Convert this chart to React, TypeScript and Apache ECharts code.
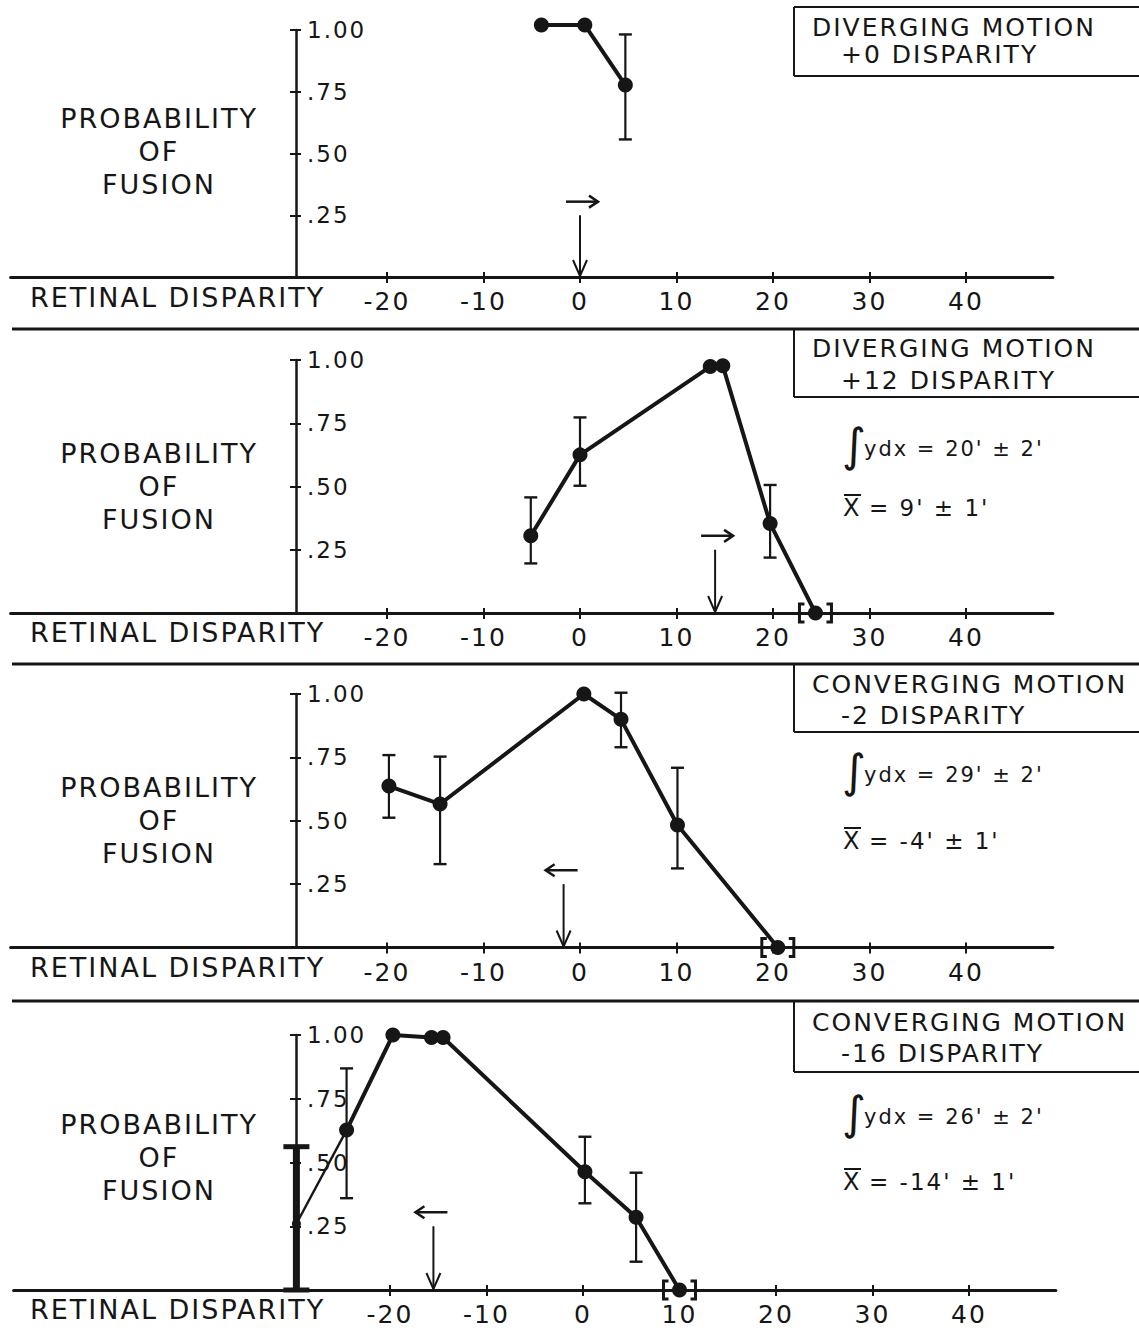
import React, { useEffect, useRef } from 'react';
import * as echarts from 'echarts';

// ---------------- DATA ----------------
const xTickValues = [-20, -10, 0, 10, 20, 30, 40];
const yTickValues = [0.25, 0.5, 0.75, 1.0];
const yTickLabels = ['.25', '.50', '.75', '1.00'];

// Panel 1: diverging motion, +0 disparity
const p1X = [-4, 0.5, 4.7];
const p1Y = [1.02, 1.02, 0.777];
const p1ErrLo = [null, null, 0.557];
const p1ErrHi = [null, null, 0.982];

// Panel 2: diverging motion, +12 disparity
const p2X = [-5.1, 0, 13.5, 14.8, 19.7, 24.4];
const p2Y = [0.305, 0.625, 0.974, 0.977, 0.354, 0];
const p2ErrLo = [0.196, 0.503, null, null, 0.219, null];
const p2ErrHi = [0.457, 0.773, null, null, 0.506, null];

// Panel 3: converging motion, -2 disparity
const p3X = [-19.8, -14.5, 0.4, 4.25, 10.1, 20.5];
const p3Y = [0.637, 0.566, 1.0, 0.9, 0.483, 0];
const p3ErrLo = [0.512, 0.329, null, 0.79, 0.312, null];
const p3ErrHi = [0.759, 0.753, null, 1.005, 0.709, null];

// Panel 4: converging motion, -16 disparity
const p4X = [-29.7, -24.5, -19.7, -15.7, -14.5, 0.2, 5.5, 10];
const p4Y = [0.26, 0.627, 1.0, 0.99, 0.99, 0.464, 0.285, 0];
const p4ErrLo = [0, 0.36, null, null, null, 0.34, 0.111, null];
const p4ErrHi = [0.562, 0.869, null, null, null, 0.601, 0.46, null];

// zero-probability points drawn with brackets, one per panel
const bracketX = [null, 24.4, 20.5, 10];
// disparity arrows (position, direction of motion)
const arrowX = [0, 14, -1.7, -15.5];
const arrowDir = [1, 1, -1, -1];

const boxLine1 = ['DIVERGING MOTION', 'DIVERGING MOTION', 'CONVERGING MOTION', 'CONVERGING MOTION'];
const boxLine2 = ['+0 DISPARITY', '+12 DISPARITY', '-2 DISPARITY', '-16 DISPARITY'];
const integralText = [null, "ydx = 20' ± 2'", "ydx = 29' ± 2'", "ydx = 26' ± 2'"];
const meanText = [null, "= 9' ± 1'", "= -4' ± 1'", "= -14' ± 1'"];
const yLabelLines = ['PROBABILITY', 'OF', 'FUSION'];
const xLabel = 'RETINAL DISPARITY';

// ---------------- LAYOUT ----------------
const INK = '#161616';
const FONT = "'DejaVu Sans', sans-serif";
const PX = 9.65;
const X_MIN = -59;
const X_MAX = 49;
const panelTop = [30, 360, 694, 1035];
const panelHeight = [247, 253, 253.5, 255];
const panelZeroX = [580, 580, 580, 583];
const Y_AXIS_PX = 296;
const boxTop = [7, 329, 664, 1001];
const boxBottom = [76, 397, 732, 1072];
const title1Y = [27, 348, 684, 1022];
const title2Y = [54, 380, 715, 1053];
const intY = [0, 449, 775, 1117];
const meanY = [0, 508, 841, 1182];
const yLabelTop = [118, 453, 787, 1124];
const xLabelY = [297, 632, 967, 1309];
const ARROW_TOP = 0.25;
const ARROW_H = 0.305;

const xs = [p1X, p2X, p3X, p4X];
const ys = [p1Y, p2Y, p3Y, p4Y];
const los = [p1ErrLo, p2ErrLo, p3ErrLo, p4ErrLo];
const his = [p1ErrHi, p2ErrHi, p3ErrHi, p4ErrHi];
const HEAVY_PANEL = 3;
const HEAVY_INDEX = 0;

const errRender = (capHalf: number, width: number, capWidth: number) => (params: any, api: any) => {
  const x = api.value(0);
  const lo = api.value(1);
  const hi = api.value(2);
  const a = api.coord([x, hi]);
  const b = api.coord([x, lo]);
  const st = { stroke: INK, lineWidth: width };
  const cs = { stroke: INK, lineWidth: capWidth };
  return {
    type: 'group',
    children: [
      { type: 'line', shape: { x1: a[0], y1: a[1], x2: b[0], y2: b[1] }, style: st },
      { type: 'line', shape: { x1: a[0] - capHalf, y1: a[1], x2: a[0] + capHalf, y2: a[1] }, style: cs },
      { type: 'line', shape: { x1: b[0] - capHalf, y1: b[1], x2: b[0] + capHalf, y2: b[1] }, style: cs },
    ],
  };
};

const bracketRender = (params: any, api: any) => {
  const c = api.coord([api.value(0), 0]);
  const h = 9;
  const L = c[0] - 16;
  const R = c[0] + 16;
  const s = 5;
  const st = { stroke: INK, lineWidth: 3, fill: 'none' };
  return {
    type: 'group',
    children: [
      { type: 'polyline', shape: { points: [[L + s, c[1] - h], [L, c[1] - h], [L, c[1] + h], [L + s, c[1] + h]] }, style: st },
      { type: 'polyline', shape: { points: [[R - s, c[1] - h], [R, c[1] - h], [R, c[1] + h], [R - s, c[1] + h]] }, style: st },
    ],
  };
};

const arrowRender = (params: any, api: any) => {
  const x = api.value(0);
  const dir = api.value(1);
  const b = api.coord([x, 0]);
  const t = api.coord([x, ARROW_TOP]);
  const hy = api.coord([x, ARROW_H])[1];
  const cx = b[0] + dir * 2;
  const x1 = cx - 16;
  const x2 = cx + 16;
  const tip = dir > 0 ? x2 : x1;
  const st = { stroke: INK, lineWidth: 2, fill: 'none' };
  return {
    type: 'group',
    children: [
      { type: 'line', shape: { x1: b[0], y1: t[1], x2: b[0], y2: b[1] - 1 }, style: st },
      { type: 'polyline', shape: { points: [[b[0] - 7, b[1] - 17], [b[0], b[1] - 1], [b[0] + 7, b[1] - 17]] }, style: st },
      { type: 'line', shape: { x1, y1: hy, x2, y2: hy }, style: { stroke: INK, lineWidth: 2.5 } },
      { type: 'polyline', shape: { points: [[tip - dir * 9, hy - 6], [tip, hy], [tip - dir * 9, hy + 6]] }, style: { stroke: INK, lineWidth: 2.5, fill: 'none' } },
    ],
  };
};

function yLabelFormatter(v: number) {
  const i = yTickValues.findIndex((t) => Math.abs(t - v) < 1e-6);
  return i >= 0 ? yTickLabels[i] : '';
}

function textEl(text: string, x: number, y: number, size: number, align: string = 'left') {
  return {
    type: 'text',
    x,
    y,
    silent: true,
    style: {
      text,
      fill: INK,
      fontSize: size,
      fontFamily: FONT,
      align,
      textAlign: align,
      verticalAlign: 'middle',
      textVerticalAlign: 'middle',
    },
  };
}

function lineEl(x1: number, y1: number, x2: number, y2: number, w: number) {
  return { type: 'line', silent: true, shape: { x1, y1, x2, y2 }, style: { stroke: INK, lineWidth: w } };
}

function buildOption() {
  const grid: any[] = [];
  const xAxis: any[] = [];
  const yAxis: any[] = [];
  const series: any[] = [];
  const graphic: any[] = [];

  for (let i = 0; i < 4; i++) {
    const left = panelZeroX[i] + X_MIN * PX;
    grid.push({
      left,
      top: panelTop[i],
      width: (X_MAX - X_MIN) * PX,
      height: panelHeight[i],
      containLabel: false,
      outerBoundsMode: 'none',
    });
    const xCommon = { type: 'value', gridIndex: i, min: X_MIN, max: X_MAX, position: 'bottom', splitLine: { show: false } };
    xAxis.push({
      ...xCommon,
      axisLine: { show: true, onZero: false, lineStyle: { color: INK, width: 3 } },
      axisTick: { show: true, length: 6, customValues: xTickValues, lineStyle: { color: INK, width: 2 } },
      axisLabel: { show: true, customValues: xTickValues, margin: 12, fontSize: 25, fontFamily: FONT, color: INK },
    });
    xAxis.push({
      ...xCommon,
      axisLine: { show: false, onZero: false },
      axisTick: { show: true, inside: true, length: 5, customValues: xTickValues, lineStyle: { color: INK, width: 2 } },
      axisLabel: { show: false },
    });
    const offset = -(Y_AXIS_PX - left);
    const yCommon = { type: 'value', gridIndex: i, min: 0, max: 1, interval: 0.25, position: 'left', offset, splitLine: { show: false } };
    yAxis.push({
      ...yCommon,
      axisLine: { show: true, onZero: false, lineStyle: { color: INK, width: 2.5 } },
      axisTick: { show: true, length: 6, customValues: yTickValues, lineStyle: { color: INK, width: 2 } },
      axisLabel: {
        show: true,
        inside: true,
        margin: 11,
        customValues: yTickValues,
        formatter: yLabelFormatter,
        fontSize: 23,
        fontFamily: FONT,
        color: INK,
      },
    });
    yAxis.push({
      ...yCommon,
      axisLine: { show: false, onZero: false },
      axisTick: { show: true, inside: true, length: 5, customValues: yTickValues, lineStyle: { color: INK, width: 2 } },
      axisLabel: { show: false },
    });

    const xi = 2 * i;
    const pts = xs[i].map((x, k) => [x, ys[i][k]]);
    const mainPts = i === HEAVY_PANEL ? pts.slice(1) : pts;
    series.push({
      type: 'line',
      xAxisIndex: xi,
      yAxisIndex: xi,
      data: mainPts,
      symbol: 'circle',
      symbolSize: 15,
      showSymbol: true,
      clip: false,
      z: 4,
      lineStyle: { color: INK, width: 4 },
      itemStyle: { color: INK },
    });
    if (i === HEAVY_PANEL) {
      series.push({
        type: 'line',
        xAxisIndex: xi,
        yAxisIndex: xi,
        data: pts.slice(0, 2),
        symbol: 'circle',
        symbolSize: (v: any, p: any) => (p.dataIndex === 0 ? 9 : 0),
        clip: false,
        z: 3,
        lineStyle: { color: INK, width: 2.4 },
        itemStyle: { color: INK },
      });
    }
    const errData: any[] = [];
    const heavyData: any[] = [];
    xs[i].forEach((x, k) => {
      const lo = los[i][k];
      const hi = his[i][k];
      if (lo === null || hi === null) return;
      if (i === HEAVY_PANEL && k === HEAVY_INDEX) heavyData.push([x, lo, hi]);
      else errData.push([x, lo, hi]);
    });
    series.push({
      type: 'custom',
      xAxisIndex: xi,
      yAxisIndex: xi,
      data: errData,
      encode: { x: 0, y: [1, 2] },
      renderItem: errRender(6.5, 2.2, 2.4),
      z: 3,
      silent: true,
    });
    if (heavyData.length) {
      series.push({
        type: 'custom',
        xAxisIndex: xi,
        yAxisIndex: xi,
        data: heavyData,
        encode: { x: 0, y: [1, 2] },
        renderItem: errRender(13, 7, 5),
        z: 3,
        silent: true,
      });
    }
    if (bracketX[i] !== null) {
      series.push({
        type: 'custom',
        xAxisIndex: xi,
        yAxisIndex: xi,
        data: [[bracketX[i], 0]],
        encode: { x: 0, y: 1 },
        renderItem: bracketRender,
        z: 3,
        silent: true,
      });
    }
    series.push({
      type: 'custom',
      xAxisIndex: xi,
      yAxisIndex: xi,
      data: [[arrowX[i], arrowDir[i]]],
      encode: { x: 0, y: 1 },
      renderItem: arrowRender,
      z: 3,
      silent: true,
    });

    // boxes and separators
    if (i === 0) {
      graphic.push(lineEl(794, boxTop[i], 1139, boxTop[i], 2));
    } else {
      graphic.push(lineEl(12, boxTop[i], 1139, boxTop[i], 3));
    }
    graphic.push(lineEl(794, boxTop[i], 794, boxBottom[i], 2));
    graphic.push(lineEl(794, boxBottom[i], 1139, boxBottom[i], 2.2));
    graphic.push(textEl(boxLine1[i], 812, title1Y[i], 25));
    graphic.push(textEl(boxLine2[i], 841, title2Y[i], 25));

    if (integralText[i]) {
      graphic.push(textEl('∫', 842, intY[i] - 4, 46));
      graphic.push(textEl(integralText[i] as string, 864, intY[i], 21));
      graphic.push(textEl('X', 843, meanY[i], 24));
      graphic.push(lineEl(844, meanY[i] - 13, 861, meanY[i] - 13, 2));
      graphic.push(textEl(meanText[i] as string, 869, meanY[i], 23));
    }

    yLabelLines.forEach((t, k) => {
      graphic.push(textEl(t, 159, yLabelTop[i] + 33 * k, 27, 'center'));
    });
    graphic.push(textEl(xLabel, 30, xLabelY[i], 27));
  }

  return {
    animation: false,
    backgroundColor: '#ffffff',
    grid,
    xAxis,
    yAxis,
    series,
    graphic,
  };
}

export default function App() {
  const ref = useRef<HTMLDivElement>(null);
  useEffect(() => {
    if (!ref.current) return;
    const chart = echarts.init(ref.current, null, { renderer: 'svg' });
    chart.setOption(buildOption() as any);
    return () => chart.dispose();
  }, []);
  return (
    <>
      <style>{'svg text{letter-spacing:2px}'}</style>
      <div
        ref={ref}
        style={{ position: 'absolute', left: 0, top: 0, width: 1139, height: 1334, background: '#fff' }}
      />
    </>
  );
}
